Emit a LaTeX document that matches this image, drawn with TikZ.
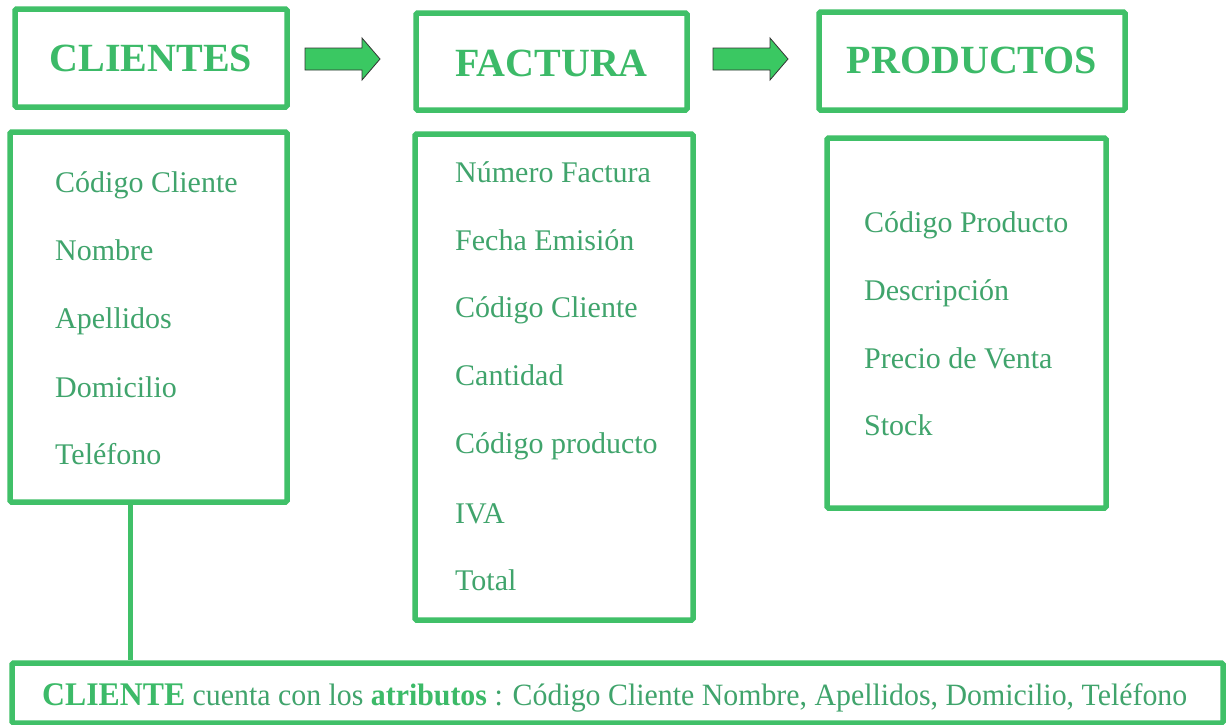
\documentclass[tikz,border=0pt]{standalone}
\usepackage{fontspec}
\usepackage{graphicx}
\setmainfont{Liberation Serif}
\definecolor{bordergreen}{RGB}{64,192,104}
\definecolor{titlegreen}{RGB}{60,186,104}
\definecolor{attrgreen}{RGB}{64,164,108}
\definecolor{arrowfill}{RGB}{58,200,98}
\tikzset{
  framebox/.style={draw=bordergreen, line width=5.5pt, rounded corners=1.5pt, fill=white, inner sep=0pt},
  titletext/.style={font=\fontsize{40}{44}\selectfont\bfseries, text=titlegreen},
  attr/.style={anchor=base west, inner sep=0pt, font=\fontsize{30}{34}\selectfont, text=attrgreen},
  blockarrow/.style={fill=arrowfill, draw=black!80, line width=0.8pt, line join=miter},
  link/.style={draw=bordergreen, line width=5pt}
}
\begin{document}
\begin{tikzpicture}[x=1pt,y=-1pt]
\useasboundingbox (0,0) rectangle (1226,724);
\fill[white] (0,0) rectangle (1226,724);

% title boxes
\node[framebox, minimum width=272pt, minimum height=98pt] (tcl) at (151,58) {};
\node[titletext] at (151,58) {CLIENTES};
\node[framebox, minimum width=271pt, minimum height=97pt] (tfa) at (551.5,61.5) {};
\node[titletext] at (551.5,63) {FACTURA};
\node[framebox, minimum width=306pt, minimum height=98pt] (tpr) at (972,61) {};
\node[titletext] at (972,60) {PRODUCTOS};

% block arrows
\draw[blockarrow] (305,48) -- (362,48) -- (362,38) -- (380,59) -- (362,80) -- (362,70) -- (305,70) -- cycle;
\draw[blockarrow] (713,48) -- (770,48) -- (770,38) -- (788,59) -- (770,80) -- (770,70) -- (713,70) -- cycle;

% attribute boxes
\node[framebox, minimum width=277pt, minimum height=370pt] (acl) at (148.5,317) {};
\node[framebox, minimum width=278pt, minimum height=486pt] (afa) at (554,377) {};
\node[framebox, minimum width=279pt, minimum height=370pt] (apr) at (966.5,323) {};

% CLIENTES attributes
\node[attr] (c1) at (55,192) {Código Cliente};
\node[attr] (c2) at (55,260) {Nombre};
\node[attr] (c3) at (55,328) {Apellidos};
\node[attr] (c4) at (55,397) {Domicilio};
\node[attr] (c5) at (55,464) {Teléfono};

% FACTURA attributes
\node[attr] (f1) at (455,182) {Número Factura};
\node[attr] (f2) at (455,250) {Fecha Emisión};
\node[attr] (f3) at (455,317) {Código Cliente};
\node[attr] (f4) at (455,385) {Cantidad};
\node[attr] (f5) at (455,453) {Código producto};
\node[attr] (f6) at (455,523) {IVA};
\node[attr] (f7) at (455,590) {Total};

% PRODUCTOS attributes
\node[attr] (p1) at (864,232) {Código Producto};
\node[attr] (p2) at (864,300) {Descripción};
\node[attr] (p3) at (864,368) {Precio de Venta};
\node[attr] (p4) at (864,435) {Stock};

% bottom box
\node[framebox, minimum width=1211pt, minimum height=60pt] (bot) at (617.5,693) {};
\node[anchor=base west, inner sep=0pt, text=attrgreen, font=\fontsize{31}{34}\selectfont] (btxt) at (42,705)
  {\resizebox{1145pt}{\height}{\textcolor{titlegreen}{\fontsize{33}{36}\selectfont\bfseries CLIENTE} cuenta con los \textcolor{titlegreen}{\bfseries atributos} : Código Cliente Nombre, Apellidos, Domicilio, Teléfono}};

% connector
\coordinate (lx) at (130,0);
\draw[link] (acl.south -| lx) -- (bot.north -| lx);
\end{tikzpicture}
\end{document}
